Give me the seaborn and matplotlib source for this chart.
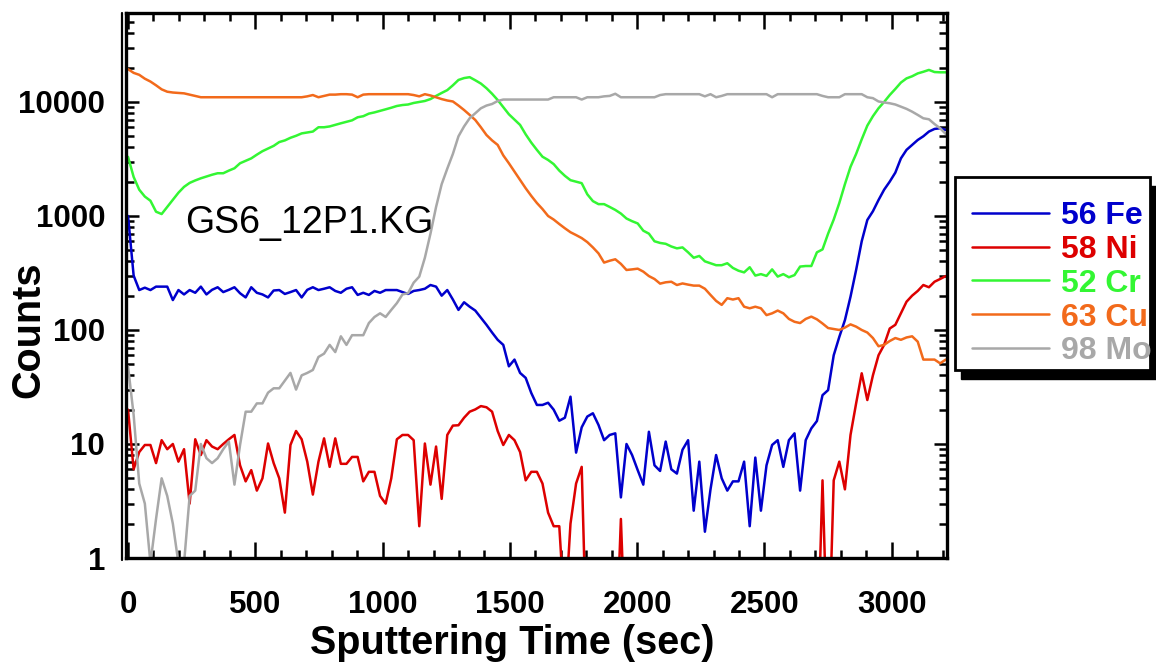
import numpy as np
import pandas as pd
import matplotlib
matplotlib.use("Agg")
import matplotlib.pyplot as plt
import seaborn as sns
from matplotlib.ticker import MultipleLocator, LogLocator, FixedLocator, FuncFormatter, NullFormatter
from matplotlib.lines import Line2D
from matplotlib.patches import Rectangle

# ---------------- data ----------------
sputter_time = list(range(0, 3213, 22))  # seconds, 147 samples

fe_56 = [1000, 300, 224, 235, 224, 240, 240, 240, 183, 224,
         205, 224, 212, 240, 205, 225, 237, 215, 225, 237,
         210, 193, 237, 212, 205, 193, 222, 224, 207, 215,
         224, 193, 225, 237, 224, 230, 237, 220, 212, 230,
         237, 203, 212, 203, 220, 212, 224, 224, 224, 215,
         207, 220, 224, 230, 248, 240, 200, 224, 185, 150,
         175, 160, 148, 128, 111, 95, 82, 74, 48, 55,
         42, 38, 28, 22, 22, 23, 20, 16, 17, 26,
         8.4, 14, 17.4, 18.6, 14.7, 10.8, 12, 12.4, 3.4, 10,
         8, 5.9, 4.4, 12.8, 6.5, 5.8, 10.5, 6, 5.5, 8.9,
         10.8, 2.6, 7, 1.7, 4, 8, 5, 3.9, 4.7, 4.7,
         7, 1.9, 7.6, 2.6, 6.5, 9.8, 10.8, 6.3, 10.8, 12.4,
         3.9, 10.8, 13.7, 15.9, 26.8, 29.7, 60, 87, 122, 196,
         336, 600, 922, 1100, 1380, 1700, 2000, 2400, 3200, 3800,
         4200, 4640, 5000, 5500, 5800, 5880, 5680]

ni_58 = [20, 6, 8.5, 9.8, 9.8, 6.8, 10.8, 9, 10, 7,
         9, 3.0, 11, 8, 10.8, 9.5, 9, 10, 11, 12,
         6.5, 4.7, 5.9, 3.9, 5, 10.1, 6.8, 5, 2.5, 9.8,
         13, 11, 7, 3.6, 7, 11.2, 6.3, 11.2, 6.7, 6.7,
         7.7, 7.7, 4.7, 5.7, 5.7, 3.5, 3, 5, 11, 12,
         12, 10.8, 1.9, 10.1, 4.4, 9.5, 3.3, 12, 14.5, 14.6,
         17, 19.2, 20.1, 21.5, 21, 19.2, 13, 9.8, 12, 10.8,
         8.5, 4.8, 5.7, 5.7, 4.5, 2.5, 1.9, 1.9, 0.3, 2,
         4.5, 6.3, 0.1, 0.1, 0.1, 0.1, 0.1, 0.1, 2.2, 0.1,
         0.1, 0.1, 0.1, 0.1, 0.1, 0.1, 0.1, 0.1, 0.1, 0.1,
         0.1, 0.1, 0.1, 0.1, 0.1, 0.1, 0.1, 0.1, 0.1, 0.1,
         0.1, 0.1, 0.1, 0.1, 0.1, 0.1, 0.1, 0.1, 0.1, 0.1,
         0.1, 0.1, 0.1, 0.1, 4.8, 0.1, 4.8, 7, 4, 12,
         22.7, 41.7, 24.3, 40, 60, 74, 103, 111, 140, 177,
         200, 220, 248, 237, 265, 280, 297]

cr_52 = [3300, 2200, 1700, 1480, 1360, 1090, 1040, 1200, 1380, 1600,
         1800, 1950, 2050, 2140, 2220, 2300, 2370, 2370, 2500, 2620,
         2900, 3050, 3200, 3450, 3700, 3900, 4120, 4450, 4600, 4850,
         5050, 5300, 5400, 5500, 6000, 6000, 6100, 6300, 6500, 6700,
         6900, 7340, 7500, 7900, 8100, 8350, 8620, 8900, 9220, 9400,
         9500, 9800, 10000, 10200, 10600, 11300, 12000, 12700, 14000, 15600,
         16200, 16500, 15500, 14500, 13200, 11800, 10400, 9000, 7800, 7000,
         6290, 5200, 4400, 3800, 3310, 3100, 2850, 2500, 2250, 2060,
         2000, 1940, 1550, 1350, 1270, 1270, 1200, 1130, 1050, 950,
         900, 860, 743, 700, 600, 580, 570, 540, 520, 530,
         480, 430, 446, 400, 385, 370, 370, 385, 350, 331,
         320, 355, 300, 309, 298, 340, 294, 309, 290, 303,
         360, 364, 364, 480, 509, 700, 930, 1300, 1900, 2700,
         3500, 4700, 6200, 7500, 8800, 10000, 11500, 13000, 14800, 16100,
         16800, 17800, 18400, 19100, 18300, 18200, 18200]

cu_63 = [19400, 18000, 17300, 16000, 15100, 14000, 12900, 12300, 12100, 12000,
         11900, 11600, 11300, 11000, 11000, 11000, 11000, 11000, 11000, 11000,
         11000, 11000, 11000, 11000, 11000, 11000, 11000, 11000, 11000, 11000,
         11000, 11000, 11200, 11500, 11000, 11300, 11600, 11600, 11700, 11700,
         11600, 11000, 11600, 11700, 11700, 11700, 11700, 11700, 11700, 11700,
         11700, 11500, 11200, 11700, 11400, 11000, 10600, 10300, 10100, 9300,
         8500, 7700, 6950, 6000, 5130, 4600, 4200, 3400, 2900, 2450,
         2070, 1750, 1500, 1300, 1150, 1000, 930, 850, 780, 720,
         680, 640, 590, 530, 470, 390, 405, 417, 380, 336,
         340, 345, 325, 297, 280, 255, 262, 265, 248, 256,
         250, 245, 245, 230, 203, 180, 166, 190, 185, 190,
         160, 155, 160, 155, 135, 140, 148, 140, 125, 118,
         115, 125, 131, 124, 114, 104, 102, 100, 105, 112,
         107, 100, 95, 85, 72, 74, 80, 85, 82, 86,
         88, 79, 55, 55, 55, 51, 55]

mo_98 = [48, 18, 4.5, 3.0, 0.9, 2.2, 5, 3.5, 2, 0.9,
         0.9, 3.5, 3.9, 10, 7.5, 6.8, 7.5, 9, 10.5, 4.4,
         9.8, 19.2, 19.2, 22.7, 22.7, 28.2, 30.8, 30.8, 36, 42,
         30, 40, 42, 44.6, 58, 62, 74, 64, 88, 74,
         90, 90, 90, 115, 130, 140, 130, 150, 172, 205,
         210, 260, 294, 430, 700, 1200, 1900, 2600, 3500, 5000,
         6100, 7200, 7970, 8800, 9300, 9600, 10200, 10500, 10500, 10500,
         10500, 10500, 10500, 10500, 10500, 10500, 11000, 11000, 11000, 11000,
         11000, 10500, 11000, 11000, 11000, 11200, 11300, 11800, 11000, 11000,
         11000, 11000, 11000, 11000, 11000, 11500, 11700, 11700, 11700, 11700,
         11700, 11700, 11700, 11200, 11700, 11000, 11300, 11700, 11700, 11700,
         11700, 11700, 11700, 11700, 11700, 11000, 11700, 11700, 11700, 11700,
         11700, 11700, 11700, 11700, 11300, 11000, 11000, 11000, 11700, 11700,
         11700, 11700, 11000, 10800, 10100, 9900, 9740, 9500, 9100, 8700,
         8220, 7700, 7190, 7050, 6400, 5880, 5240]

elements = ["56 Fe", "58 Ni", "52 Cr", "63 Cu", "98 Mo"]
series = [fe_56, ni_58, cr_52, cu_63, mo_98]
colors = ["#0000CC", "#DD0000", "#33F633", "#F26A1B", "#A8A8A8"]

x_ticks = [0, 500, 1000, 1500, 2000, 2500, 3000]
y_ticks = [1, 10, 100, 1000, 10000]
annotation = "GS6_12P1.KG"

# ---------------- build long table ----------------
df = pd.concat(
    [pd.DataFrame({"time": sputter_time, "counts": vals, "element": name})
     for name, vals in zip(elements, series)],
    ignore_index=True,
)

# ---------------- figure ----------------
sns.set_style("ticks")
plt.rcParams["font.family"] = ["Liberation Sans", "DejaVu Sans"]
plt.rcParams["font.weight"] = "bold"
plt.rcParams["text.color"] = "black"
plt.rcParams["xtick.color"] = "black"
plt.rcParams["ytick.color"] = "black"
plt.rcParams["axes.edgecolor"] = "black"

W, H = 1156, 667
fig = plt.figure(figsize=(W / 100, H / 100), dpi=100)
ax = fig.add_axes([126 / W, 1 - 558 / H, (947 - 126) / W, (558 - 13) / H])

palette = dict(zip(elements, colors))
sns.lineplot(data=df, x="time", y="counts", hue="element", hue_order=elements,
             palette=palette, estimator=None, sort=False, linewidth=1.8,
             legend=False, ax=ax)

ax.set_yscale("log")
ax.set_ylim(1, 60300)
ax.set_xlim(-8, 3217)

ax.xaxis.set_major_locator(FixedLocator(x_ticks))
ax.xaxis.set_minor_locator(MultipleLocator(100))
ax.yaxis.set_major_locator(FixedLocator(y_ticks))
ax.yaxis.set_minor_locator(LogLocator(base=10, subs=np.arange(2, 10), numticks=30))
ax.yaxis.set_minor_formatter(NullFormatter())
ax.yaxis.set_major_formatter(FuncFormatter(lambda v, p: f"{int(round(v))}"))
ax.xaxis.set_major_formatter(FuncFormatter(lambda v, p: f"{int(round(v))}"))

ax.tick_params(which="both", direction="in", top=True, right=True,
               width=1.8, colors="black", labelcolor="black")
ax.tick_params(axis="x", which="major", length=11.5, labelsize=22.5, pad=23)
ax.tick_params(axis="y", which="major", length=9.5, labelsize=22.5, pad=15)
ax.tick_params(which="minor", length=6)

for s in ax.spines.values():
    s.set_linewidth(2.4)
    s.set_color("black")

ax.set_xlabel("")
ax.set_ylabel("")
fig.text(512 / W, 1 - 654 / H, "Sputtering Time (sec)", ha="center",
         va="baseline", fontsize=28.5, fontweight="bold", color="black")
fig.text(28 / W, 1 - 330 / H, "Counts", ha="center", va="center",
         rotation=90, fontsize=28.5, fontweight="bold", color="black")

# second (outer) frame line on the left side
fig.add_artist(Line2D([121.5 / W, 121.5 / W], [1 - 560 / H, 1 - 13 / H],
                      color="black", lw=1.6, transform=fig.transFigure))

# annotation
ax.text(224, 713, annotation, fontsize=27, fontweight="normal",
        color="black", va="baseline", ha="left")

# legend box with shadow
fig.add_artist(Rectangle((961 / W, 1 - 379 / H), (1156 - 961) / W, (379 - 186) / H,
                         transform=fig.transFigure, facecolor="black",
                         edgecolor="black", zorder=5))
fig.add_artist(Rectangle((955 / W, 1 - 370 / H), (1150 - 955) / W, (370 - 177) / H,
                         transform=fig.transFigure, facecolor="white",
                         edgecolor="black", lw=2.0, zorder=6))
handles = [Line2D([0], [0], color=c, lw=1.8) for c in colors]
leg = ax.legend(handles, elements, loc="upper left",
                bbox_to_anchor=(972 / W, 1 - 201 / H),
                bbox_transform=fig.transFigure, frameon=False,
                prop={"size": 23, "weight": "bold"},
                handlelength=2.4, handletextpad=0.4,
                labelspacing=0.12, borderaxespad=0, borderpad=0)
leg.set_zorder(7)
for txt, c in zip(leg.get_texts(), colors):
    txt.set_color(c)
leg.remove()
fig.add_artist(leg)

fig.savefig("out.png", dpi=100)
